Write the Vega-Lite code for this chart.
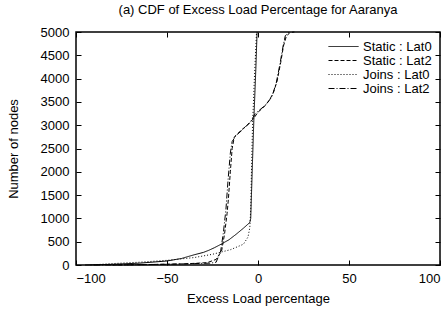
{
  "$schema": "https://vega.github.io/schema/vega-lite/v6.json",
  "width": 443,
  "height": 314,
  "autosize": {"type": "fit", "contains": "padding"},
  "padding": {"left": 7, "top": 4, "right": 2, "bottom": 9},
  "title": {"text": "(a) CDF of Excess Load Percentage for Aaranya", "font": "Liberation Sans", "fontSize": 13, "fontWeight": "normal", "color": "black", "offset": 9},
  "config": {
    "view": {"stroke": "black", "strokeWidth": 1.5},
    "axis": {"domain": false, "grid": false, "tickColor": "black", "tickSize": -5, "tickWidth": 1, "labelFont": "Liberation Sans", "labelFontSize": 13, "labelColor": "black", "titleFont": "Liberation Sans", "titleFontSize": 13, "titleFontWeight": "normal", "titleColor": "black"},
    "legend": {"orient": "top-right", "title": null, "symbolType": "stroke", "symbolStrokeColor": "black", "symbolStrokeWidth": 1, "symbolSize": 900, "clipHeight": 13, "labelFont": "Liberation Sans", "labelFontSize": 13, "labelColor": "black", "rowPadding": 0, "offset": 8}
  },
  "data": {"values": [
    {"s": "Static : Lat0", "x": -95, "y": 0},
    {"s": "Static : Lat0", "x": -80, "y": 15},
    {"s": "Static : Lat0", "x": -65, "y": 40},
    {"s": "Static : Lat0", "x": -50, "y": 86},
    {"s": "Static : Lat0", "x": -42, "y": 140},
    {"s": "Static : Lat0", "x": -35, "y": 220},
    {"s": "Static : Lat0", "x": -30, "y": 270},
    {"s": "Static : Lat0", "x": -27, "y": 316},
    {"s": "Static : Lat0", "x": -24, "y": 370},
    {"s": "Static : Lat0", "x": -21, "y": 431},
    {"s": "Static : Lat0", "x": -16, "y": 540},
    {"s": "Static : Lat0", "x": -12, "y": 660},
    {"s": "Static : Lat0", "x": -8, "y": 790},
    {"s": "Static : Lat0", "x": -4.5, "y": 912},
    {"s": "Static : Lat0", "x": -4, "y": 1000},
    {"s": "Static : Lat0", "x": -3.2, "y": 2000},
    {"s": "Static : Lat0", "x": -2.3, "y": 3100},
    {"s": "Static : Lat0", "x": -1.2, "y": 4200},
    {"s": "Static : Lat0", "x": -0.5, "y": 5000},
    {"s": "Static : Lat2", "x": -80, "y": 0},
    {"s": "Static : Lat2", "x": -60, "y": 10},
    {"s": "Static : Lat2", "x": -40, "y": 25},
    {"s": "Static : Lat2", "x": -28, "y": 50},
    {"s": "Static : Lat2", "x": -23, "y": 120},
    {"s": "Static : Lat2", "x": -20, "y": 300},
    {"s": "Static : Lat2", "x": -18.4, "y": 660},
    {"s": "Static : Lat2", "x": -17, "y": 1100},
    {"s": "Static : Lat2", "x": -16.3, "y": 1400},
    {"s": "Static : Lat2", "x": -15.2, "y": 2000},
    {"s": "Static : Lat2", "x": -14.2, "y": 2500},
    {"s": "Static : Lat2", "x": -13, "y": 2750},
    {"s": "Static : Lat2", "x": -9, "y": 2900},
    {"s": "Static : Lat2", "x": -5, "y": 3030},
    {"s": "Static : Lat2", "x": -2.3, "y": 3150},
    {"s": "Static : Lat2", "x": 0, "y": 3280},
    {"s": "Static : Lat2", "x": 3, "y": 3380},
    {"s": "Static : Lat2", "x": 6, "y": 3520},
    {"s": "Static : Lat2", "x": 8.5, "y": 3700},
    {"s": "Static : Lat2", "x": 10.5, "y": 3950},
    {"s": "Static : Lat2", "x": 12.5, "y": 4350},
    {"s": "Static : Lat2", "x": 14, "y": 4700},
    {"s": "Static : Lat2", "x": 15.5, "y": 4900},
    {"s": "Static : Lat2", "x": 17.5, "y": 4990},
    {"s": "Static : Lat2", "x": 20, "y": 5000},
    {"s": "Joins : Lat0", "x": -92, "y": 0},
    {"s": "Joins : Lat0", "x": -80, "y": 30},
    {"s": "Joins : Lat0", "x": -65, "y": 60},
    {"s": "Joins : Lat0", "x": -50, "y": 100},
    {"s": "Joins : Lat0", "x": -35, "y": 160},
    {"s": "Joins : Lat0", "x": -25, "y": 230},
    {"s": "Joins : Lat0", "x": -15, "y": 330},
    {"s": "Joins : Lat0", "x": -8, "y": 446},
    {"s": "Joins : Lat0", "x": -5.5, "y": 600},
    {"s": "Joins : Lat0", "x": -4.5, "y": 800},
    {"s": "Joins : Lat0", "x": -4, "y": 1200},
    {"s": "Joins : Lat0", "x": -3.6, "y": 2000},
    {"s": "Joins : Lat0", "x": -3, "y": 3000},
    {"s": "Joins : Lat0", "x": -2, "y": 4000},
    {"s": "Joins : Lat0", "x": -0.8, "y": 5000},
    {"s": "Joins : Lat2", "x": -90, "y": 0},
    {"s": "Joins : Lat2", "x": -70, "y": 5},
    {"s": "Joins : Lat2", "x": -50, "y": 15},
    {"s": "Joins : Lat2", "x": -35, "y": 30},
    {"s": "Joins : Lat2", "x": -26, "y": 40},
    {"s": "Joins : Lat2", "x": -23, "y": 60},
    {"s": "Joins : Lat2", "x": -20.5, "y": 300},
    {"s": "Joins : Lat2", "x": -19, "y": 700},
    {"s": "Joins : Lat2", "x": -17.6, "y": 1200},
    {"s": "Joins : Lat2", "x": -16.5, "y": 1800},
    {"s": "Joins : Lat2", "x": -15.2, "y": 2400},
    {"s": "Joins : Lat2", "x": -14.2, "y": 2650},
    {"s": "Joins : Lat2", "x": -12, "y": 2780},
    {"s": "Joins : Lat2", "x": -8, "y": 2920},
    {"s": "Joins : Lat2", "x": -4, "y": 3080},
    {"s": "Joins : Lat2", "x": -1.5, "y": 3250},
    {"s": "Joins : Lat2", "x": 1, "y": 3330},
    {"s": "Joins : Lat2", "x": 4, "y": 3430},
    {"s": "Joins : Lat2", "x": 7.5, "y": 3600},
    {"s": "Joins : Lat2", "x": 10, "y": 3900},
    {"s": "Joins : Lat2", "x": 12, "y": 4300},
    {"s": "Joins : Lat2", "x": 13.8, "y": 4700},
    {"s": "Joins : Lat2", "x": 15, "y": 4920},
    {"s": "Joins : Lat2", "x": 17, "y": 5000}
  ]},
  "layer": [
    {
      "mark": {"type": "line", "color": "black", "strokeWidth": 1},
      "encoding": {
        "x": {"field": "x", "type": "quantitative", "scale": {"domain": [-100, 100], "nice": false, "zero": false}, "axis": {"values": [-100, -50, 0, 50, 100], "format": "d", "title": "Excess Load percentage", "labelPadding": 12, "titlePadding": 7}},
        "y": {"field": "y", "type": "quantitative", "scale": {"domain": [0, 5000], "nice": false}, "axis": {"values": [0, 500, 1000, 1500, 2000, 2500, 3000, 3500, 4000, 4500, 5000], "format": "d", "title": "Number of nodes", "labelPadding": 12, "titlePadding": 20}},
        "strokeDash": {"field": "s", "type": "nominal", "scale": {"domain": ["Static : Lat0", "Static : Lat2", "Joins : Lat0", "Joins : Lat2"], "range": [[1, 0], [4, 2], [1, 2], [6, 2, 1, 2]]}},
        "order": {"field": "y", "type": "quantitative"}
      }
    },
    {
      "mark": {"type": "point", "opacity": 0},
      "encoding": {
        "x": {"field": "x", "type": "quantitative", "axis": {"orient": "top", "values": [-100, -50, 0, 50, 100], "labels": false, "title": null}},
        "y": {"field": "y", "type": "quantitative", "axis": {"orient": "right", "values": [0, 500, 1000, 1500, 2000, 2500, 3000, 3500, 4000, 4500, 5000], "labels": false, "title": null}}
      }
    }
  ],
  "resolve": {"axis": {"x": "independent", "y": "independent"}}
}
